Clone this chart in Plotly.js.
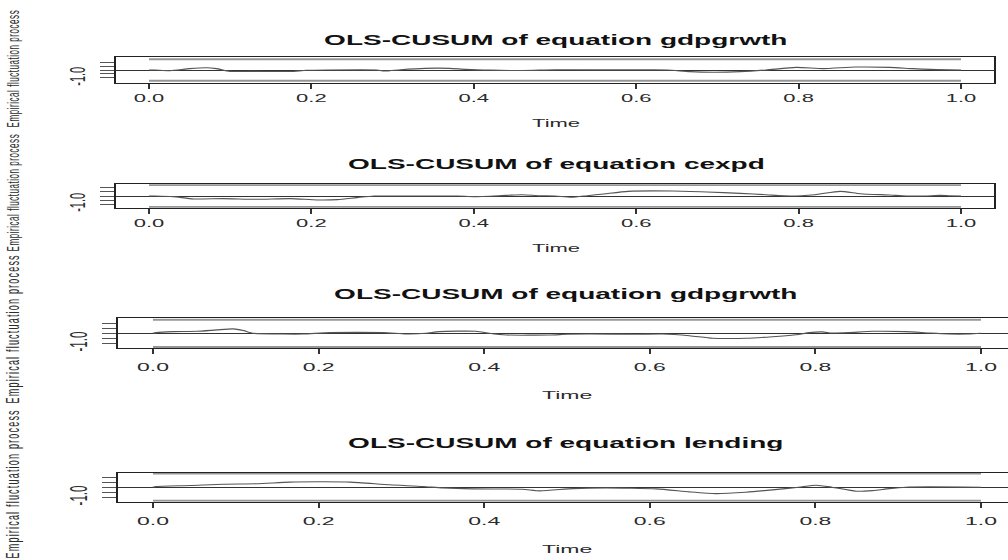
<!DOCTYPE html>
<html><head><meta charset="utf-8">
<script src="https://cdn.plot.ly/plotly-3.0.1.min.js"></script>
<style>
html,body{margin:0;padding:0;background:#fff;overflow:hidden;}
#wrap{width:1008px;height:560px;overflow:hidden;position:relative;}
#chart{width:504px;height:560px;transform:scaleX(2);transform-origin:0 0;}
</style></head><body><div id="wrap"><div id="chart"></div></div>
<script>
// ---- data ----
const titles = ['OLS-CUSUM of equation gdpgrwth','OLS-CUSUM of equation cexpd','OLS-CUSUM of equation gdpgrwth','OLS-CUSUM of equation lending'];
const xTickVals = [0, 0.2, 0.4, 0.6, 0.8, 1.0];
const xTickText = ['0.0','0.2','0.4','0.6','0.8','1.0'];
const yTickVals = [-1, -0.5, 0, 0.5, 1];
const yTickText = ['-1.0','','','',''];
const boundaryTime = [0, 1];
const boundaryUpper = [1.358, 1.358];
const boundaryLower = [-1.358, -1.358];

const t1 = [0, 0.007, 0.026, 0.05, 0.071, 0.083, 0.1, 0.133, 0.174, 0.194, 0.22, 0.28, 0.29, 0.31, 0.34, 0.37, 0.39, 0.42, 0.46, 0.5, 0.55, 0.6, 0.638, 0.666, 0.695, 0.728, 0.76, 0.797, 0.83, 0.87, 0.912, 0.94, 0.962, 1];
const p1 = [0, 0, -0.08, 0.17, 0.28, 0.17, -0.17, -0.17, -0.19, -0.04, 0, 0, -0.13, 0.04, 0.21, 0.21, 0.08, -0.02, -0.06, 0.02, 0.02, 0.01, 0, -0.21, -0.29, -0.21, 0, 0.33, 0.17, 0.37, 0.33, 0.17, 0.08, 0];

const t2 = [0, 0.007, 0.03, 0.055, 0.091, 0.133, 0.174, 0.207, 0.232, 0.256, 0.277, 0.3, 0.38, 0.4, 0.44, 0.46, 0.48, 0.5, 0.52, 0.54, 0.56, 0.59, 0.645, 0.687, 0.728, 0.76, 0.79, 0.82, 0.851, 0.876, 0.912, 0.933, 0.955, 0.974, 0.985, 1];
const p2 = [0, 0, -0.08, -0.37, -0.33, -0.41, -0.33, -0.49, -0.45, -0.2, 0, 0, 0, -0.08, 0.08, 0.16, 0.04, 0, -0.16, 0.04, 0.25, 0.58, 0.62, 0.5, 0.33, 0.16, 0, 0.16, 0.58, 0.29, 0.12, 0, 0, 0.08, 0.04, 0];

const t3 = [0, 0.004, 0.024, 0.053, 0.077, 0.097, 0.109, 0.121, 0.157, 0.181, 0.214, 0.278, 0.306, 0.33, 0.346, 0.39, 0.406, 0.427, 0.479, 0.5, 0.527, 0.587, 0.615, 0.648, 0.676, 0.716, 0.748, 0.776, 0.793, 0.808, 0.82, 0.84, 0.869, 0.909, 0.937, 0.961, 0.985, 1];
const p3 = [0, 0.07, 0.17, 0.2, 0.34, 0.44, 0.27, 0, -0.07, -0.07, 0.07, 0.07, -0.07, 0, 0.17, 0.2, 0, -0.17, -0.17, -0.1, -0.07, -0.1, -0.07, -0.24, -0.5, -0.5, -0.34, -0.14, 0.07, 0.14, 0.03, 0.07, 0.2, 0.17, 0.03, -0.07, -0.07, 0];

const t4 = [0, 0.004, 0.045, 0.085, 0.125, 0.165, 0.205, 0.238, 0.286, 0.326, 0.35, 0.386, 0.446, 0.467, 0.507, 0.547, 0.608, 0.648, 0.68, 0.716, 0.748, 0.78, 0.801, 0.82, 0.849, 0.869, 0.889, 0.909, 0.937, 1];
const p4 = [0, 0.07, 0.17, 0.3, 0.34, 0.51, 0.54, 0.51, 0.24, 0.07, -0.07, -0.17, -0.2, -0.37, -0.14, -0.07, -0.17, -0.47, -0.64, -0.5, -0.27, 0, 0.2, 0, -0.4, -0.34, -0.14, 0, 0.03, 0];

const times = [t1, t2, t3, t4];
const procs = [p1, p2, p3, p4];

// ---- layout geometry (final image pixels; the plot is drawn at half width and stretched) ----
const W = 504, H = 560;
const geom = [
  {left:58, zeroX:74.5, unitX:406, right:497, top:57.3, bottom:82.7, yr:1.6, titleY:40, timeY:123, yTitleY:69, yTitleSize:8, yTitleSp:0.55, tick:11, xStand:0},
  {left:58, zeroX:74.5, unitX:406, right:497, top:184.3, bottom:207.7, yr:1.46, titleY:164, timeY:248, yTitleY:193, yTitleSize:8, yTitleSp:0.55, tick:11, xStand:0},
  {left:59, zeroX:76.5, unitX:414, right:507, top:318.3, bottom:348.3, yr:1.5, titleY:294, timeY:395, yTitleY:329, yTitleSize:9, yTitleSp:1.2, tick:11.5, xStand:3},
  {left:59, zeroX:76.5, unitX:414, right:507, top:472.7, bottom:501.7, yr:1.45, titleY:443, timeY:549, yTitleY:484, yTitleSize:9, yTitleSp:1.2, tick:11.5, xStand:4}
];
const FONT = 'Liberation Sans, Arial, Helvetica, sans-serif';

const data = [];
const layout = {
  width: W, height: H,
  margin: {l:0, r:0, t:0, b:0},
  paper_bgcolor: '#ffffff', plot_bgcolor: '#ffffff',
  showlegend: false, hovermode: false,
  annotations: []
};

geom.forEach((g, i) => {
  const n = i + 1;
  const xs = 'x' + (n > 1 ? n : ''), ys = 'y' + (n > 1 ? n : '');
  const xKey = 'xaxis' + (n > 1 ? n : ''), yKey = 'yaxis' + (n > 1 ? n : '');
  const rightPx = Math.min(g.right, W);
  layout[xKey] = {
    domain: [g.left / W, rightPx / W],
    range: [(g.left - g.zeroX) / g.unitX, (rightPx - g.zeroX) / g.unitX],
    anchor: ys,
    tickmode: 'array', tickvals: xTickVals, ticktext: xTickText,
    ticks: 'outside', ticklen: 5, tickwidth: 1, tickcolor: '#333',
    ticklabelstandoff: g.xStand,
    tickfont: {family: FONT, size: g.tick, color: '#2a2a2a'},
    showline: true, mirror: true, linecolor: '#222', linewidth: 1,
    showgrid: false, zeroline: false, fixedrange: true
  };
  layout[yKey] = {
    domain: [(H - g.bottom) / H, (H - g.top) / H],
    range: [-g.yr, g.yr],
    anchor: xs,
    tickmode: 'array', tickvals: yTickVals, ticktext: yTickText,
    ticks: 'outside', ticklen: 7, tickwidth: 1, tickcolor: '#555',
    tickangle: -90, ticklabelstandoff: 3,
    tickfont: {family: FONT, size: g.tick, color: '#2a2a2a'},
    showline: true, mirror: true, linecolor: '#222', linewidth: 1,
    showgrid: false, zeroline: true, zerolinecolor: '#333', zerolinewidth: 1,
    fixedrange: true
  };
  data.push({x: boundaryTime, y: boundaryUpper, xaxis: xs, yaxis: ys, mode: 'lines',
             line: {color: '#969696', width: 2}});
  data.push({x: boundaryTime, y: boundaryLower, xaxis: xs, yaxis: ys, mode: 'lines',
             line: {color: '#969696', width: 2}});
  data.push({x: times[i], y: procs[i], xaxis: xs, yaxis: ys, mode: 'lines',
             line: {color: '#555', width: 1.1, shape: 'spline', smoothing: 0.6}});
  const cx = ((g.left + g.right) / 2) / W;
  layout.annotations.push({
    text: titles[i], xref: 'paper', yref: 'paper', x: cx, y: (H - g.titleY) / H,
    xanchor: 'center', yanchor: 'middle', showarrow: false,
    font: {family: FONT, size: 14, color: '#111', weight: 'bold'}
  });
  layout.annotations.push({
    text: 'Time', xref: 'paper', yref: 'paper', x: cx, y: (H - g.timeY) / H,
    xanchor: 'center', yanchor: 'middle', showarrow: false,
    font: {family: FONT, size: g.tick, color: '#2a2a2a'}
  });
  layout.annotations.push({
    text: '<span style="letter-spacing:' + g.yTitleSp + 'px">Empirical fluctuation process</span>',
    xref: 'paper', yref: 'paper', x: 6.5 / W, y: (H - g.yTitleY) / H,
    xanchor: 'center', yanchor: 'middle', showarrow: false, textangle: -90,
    font: {family: FONT, size: g.yTitleSize, color: '#2a2a2a'}
  });
});

Plotly.newPlot('chart', data, layout, {displayModeBar: false, staticPlot: true});
</script></body></html>
